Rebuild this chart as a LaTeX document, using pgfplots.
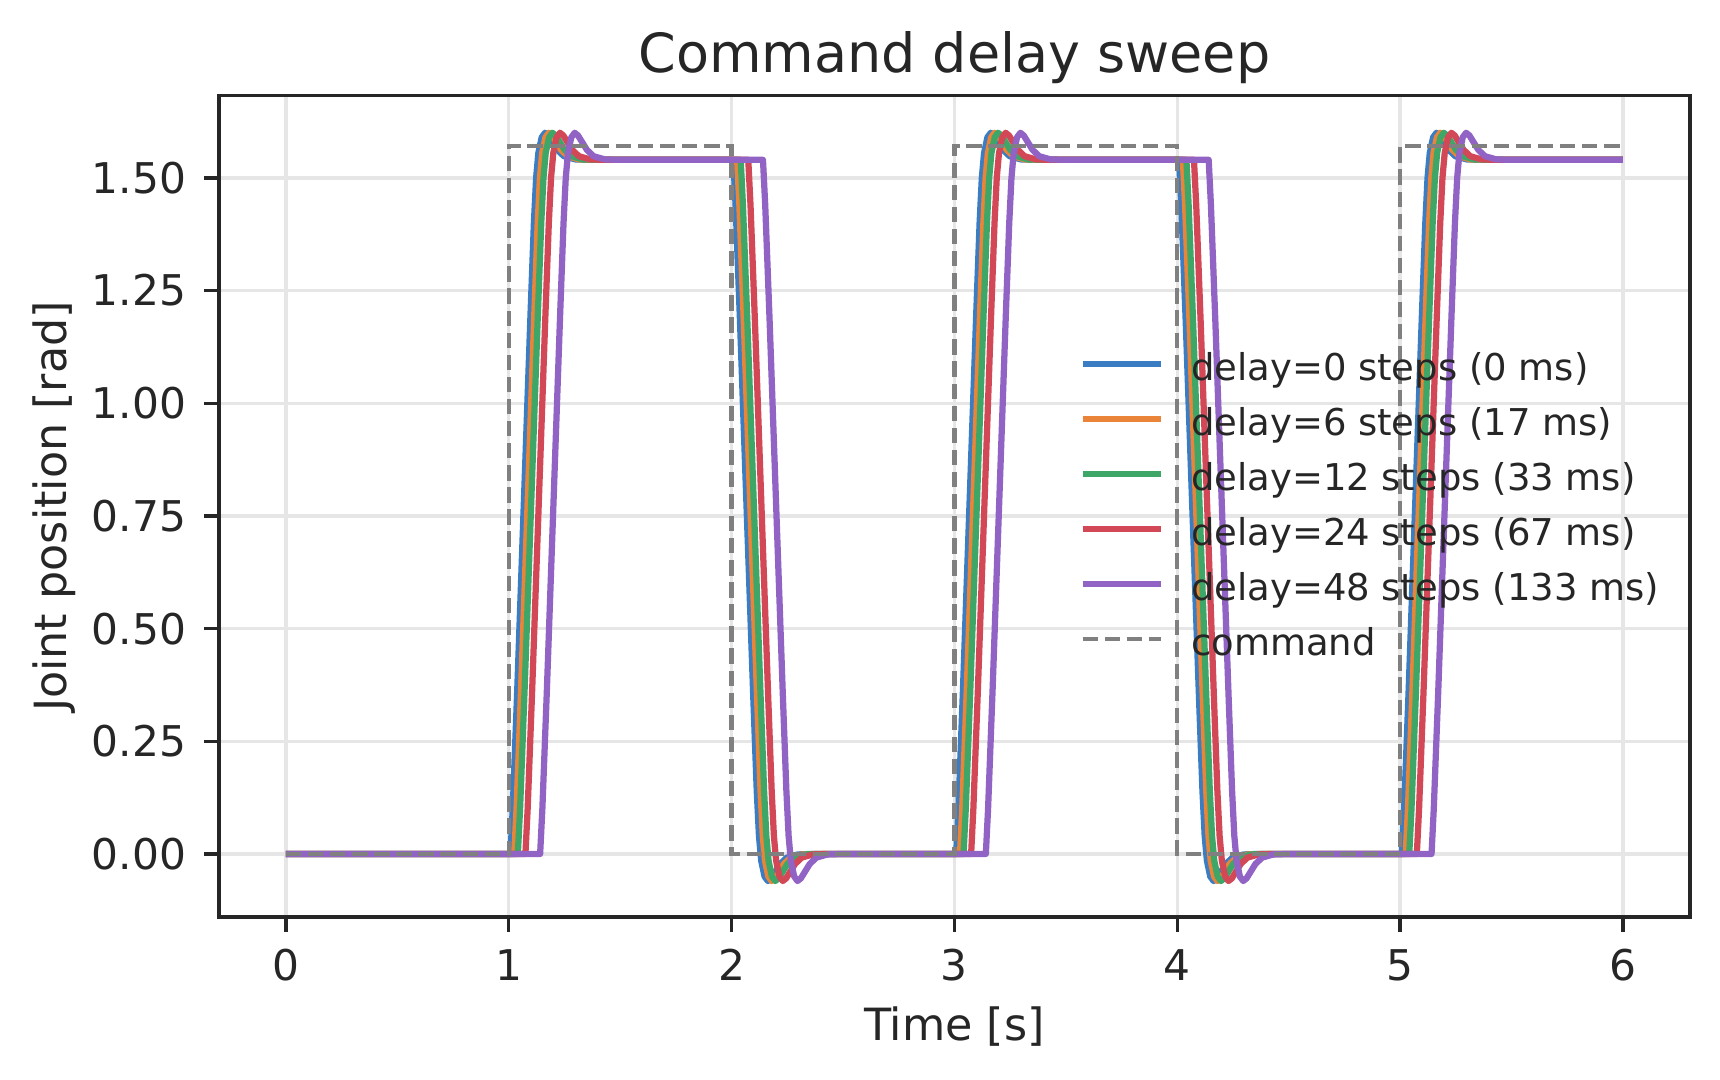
\documentclass[border=0pt]{standalone}
\usepackage{fontspec}
\setmainfont{DejaVu Sans}
\usepackage{pgfplots}
\pgfplotsset{compat=1.18}
\definecolor{cblue}{RGB}{59,125,195}
\definecolor{corange}{RGB}{234,132,56}
\definecolor{cgreen}{RGB}{62,167,103}
\definecolor{cred}{RGB}{211,72,87}
\definecolor{cpurple}{RGB}{145,99,197}
\definecolor{ccmd}{RGB}{128,128,128}
\definecolor{textc}{RGB}{38,38,38}
\definecolor{gridc}{RGB}{230,230,230}
\begin{document}
\begin{tikzpicture}
\begin{axis}[
  at={(52.56bp,39.1bp)}, anchor=south west,
  scale only axis, width=353.0bp, height=197.1bp,
  xmin=-0.3, xmax=6.3, ymin=-0.14, ymax=1.682,
  xtick={0,1,2,3,4,5,6},
  ytick={0,0.25,0.5,0.75,1,1.25,1.5},
  xtick pos=bottom, ytick pos=left,
  yticklabel style={/pgf/number format/fixed, /pgf/number format/fixed zerofill, /pgf/number format/precision=2},
  /pgf/number format/assume math mode=true,
  tick align=outside, major tick length=3.5bp,
  tick style={color=textc, line width=0.8bp},
  axis line style={color=textc, line width=0.8bp},
  every tick label/.append style={text=textc, font=\fontsize{10.2}{12}\selectfont},
  xticklabel style={anchor=base, inner sep=0pt, yshift=-11.8bp},
  yticklabel style={anchor=east, inner sep=0pt, xshift=-4.2bp},
  grid=major, major grid style={color=gridc, line width=0.8bp},
  title={Command delay sweep},
  title style={at={(axis description cs:0.5,1)}, anchor=base, inner sep=0pt, yshift=-0.48bp, text=textc, font=\fontsize{13}{15}\selectfont},
  xlabel={Time [s]},
  xlabel style={at={(axis description cs:0.5,0)}, anchor=base, inner sep=0pt, yshift=-29.5bp, text=textc, font=\fontsize{10.7}{12}\selectfont},
  ylabel={Joint position [rad]},
  ylabel style={at={(axis description cs:-0.1034,0.5)}, anchor=base, inner sep=0pt, text=textc, font=\fontsize{10.7}{12}\selectfont},
  legend cell align=left,
  legend style={at={(axis description cs:0.585,0.689)}, anchor=north west,
    draw=none, fill=none, inner sep=0pt, outer sep=0pt, row sep=4.2bp,
    text=textc, font=\fontsize{8.9}{10}\selectfont,
    nodes={inner sep=0pt, text height=7bp, text depth=2bp},
    /tikz/every odd column/.append style={column sep=6.5bp}},
  legend image code/.code={\draw[#1] (0bp,1.4bp) -- (18.8bp,1.4bp);},
]
\addplot[cblue, line width=1.5bp, line join=round] coordinates {
(0,0)
(1.008,0) (1.018,0.100) (1.038,0.360) (1.058,0.640) (1.078,0.920) (1.098,1.200) (1.113,1.400) (1.123,1.500) (1.133,1.555) (1.148,1.590) (1.163,1.600) (1.178,1.594) (1.198,1.578) (1.218,1.562) (1.248,1.548) (1.298,1.541) (1.358,1.540)
(2.008,1.540) (2.018,1.440) (2.038,1.180) (2.058,0.900) (2.078,0.620) (2.098,0.340) (2.113,0.140) (2.123,0.040) (2.133,-0.015) (2.148,-0.050) (2.163,-0.060) (2.178,-0.054) (2.198,-0.038) (2.218,-0.022) (2.248,-0.008) (2.298,-0.001) (2.358,0)
(3.008,0) (3.018,0.100) (3.038,0.360) (3.058,0.640) (3.078,0.920) (3.098,1.200) (3.113,1.400) (3.123,1.500) (3.133,1.555) (3.148,1.590) (3.163,1.600) (3.178,1.594) (3.198,1.578) (3.218,1.562) (3.248,1.548) (3.298,1.541) (3.358,1.540)
(4.008,1.540) (4.018,1.440) (4.038,1.180) (4.058,0.900) (4.078,0.620) (4.098,0.340) (4.113,0.140) (4.123,0.040) (4.133,-0.015) (4.148,-0.050) (4.163,-0.060) (4.178,-0.054) (4.198,-0.038) (4.218,-0.022) (4.248,-0.008) (4.298,-0.001) (4.358,0)
(5.008,0) (5.018,0.100) (5.038,0.360) (5.058,0.640) (5.078,0.920) (5.098,1.200) (5.113,1.400) (5.123,1.500) (5.133,1.555) (5.148,1.590) (5.163,1.600) (5.178,1.594) (5.198,1.578) (5.218,1.562) (5.248,1.548) (5.298,1.541) (5.358,1.540)
(6,1.540)
};
\addlegendentry{delay=0 steps (0 ms)}
\addplot[corange, line width=1.5bp, line join=round] coordinates {
(0,0)
(1.025,0) (1.035,0.100) (1.055,0.360) (1.075,0.640) (1.095,0.920) (1.115,1.200) (1.130,1.400) (1.140,1.500) (1.150,1.555) (1.165,1.590) (1.180,1.600) (1.195,1.594) (1.215,1.578) (1.235,1.562) (1.265,1.548) (1.315,1.541) (1.375,1.540)
(2.025,1.540) (2.035,1.440) (2.055,1.180) (2.075,0.900) (2.095,0.620) (2.115,0.340) (2.130,0.140) (2.140,0.040) (2.150,-0.015) (2.165,-0.050) (2.180,-0.060) (2.195,-0.054) (2.215,-0.038) (2.235,-0.022) (2.265,-0.008) (2.315,-0.001) (2.375,0)
(3.025,0) (3.035,0.100) (3.055,0.360) (3.075,0.640) (3.095,0.920) (3.115,1.200) (3.130,1.400) (3.140,1.500) (3.150,1.555) (3.165,1.590) (3.180,1.600) (3.195,1.594) (3.215,1.578) (3.235,1.562) (3.265,1.548) (3.315,1.541) (3.375,1.540)
(4.025,1.540) (4.035,1.440) (4.055,1.180) (4.075,0.900) (4.095,0.620) (4.115,0.340) (4.130,0.140) (4.140,0.040) (4.150,-0.015) (4.165,-0.050) (4.180,-0.060) (4.195,-0.054) (4.215,-0.038) (4.235,-0.022) (4.265,-0.008) (4.315,-0.001) (4.375,0)
(5.025,0) (5.035,0.100) (5.055,0.360) (5.075,0.640) (5.095,0.920) (5.115,1.200) (5.130,1.400) (5.140,1.500) (5.150,1.555) (5.165,1.590) (5.180,1.600) (5.195,1.594) (5.215,1.578) (5.235,1.562) (5.265,1.548) (5.315,1.541) (5.375,1.540)
(6,1.540)
};
\addlegendentry{delay=6 steps (17 ms)}
\addplot[cgreen, line width=1.5bp, line join=round] coordinates {
(0,0)
(1.041,0) (1.051,0.100) (1.071,0.360) (1.091,0.640) (1.111,0.920) (1.131,1.200) (1.146,1.400) (1.156,1.500) (1.166,1.555) (1.181,1.590) (1.196,1.600) (1.211,1.594) (1.231,1.578) (1.251,1.562) (1.281,1.548) (1.331,1.541) (1.391,1.540)
(2.041,1.540) (2.051,1.440) (2.071,1.180) (2.091,0.900) (2.111,0.620) (2.131,0.340) (2.146,0.140) (2.156,0.040) (2.166,-0.015) (2.181,-0.050) (2.196,-0.060) (2.211,-0.054) (2.231,-0.038) (2.251,-0.022) (2.281,-0.008) (2.331,-0.001) (2.391,0)
(3.041,0) (3.051,0.100) (3.071,0.360) (3.091,0.640) (3.111,0.920) (3.131,1.200) (3.146,1.400) (3.156,1.500) (3.166,1.555) (3.181,1.590) (3.196,1.600) (3.211,1.594) (3.231,1.578) (3.251,1.562) (3.281,1.548) (3.331,1.541) (3.391,1.540)
(4.041,1.540) (4.051,1.440) (4.071,1.180) (4.091,0.900) (4.111,0.620) (4.131,0.340) (4.146,0.140) (4.156,0.040) (4.166,-0.015) (4.181,-0.050) (4.196,-0.060) (4.211,-0.054) (4.231,-0.038) (4.251,-0.022) (4.281,-0.008) (4.331,-0.001) (4.391,0)
(5.041,0) (5.051,0.100) (5.071,0.360) (5.091,0.640) (5.111,0.920) (5.131,1.200) (5.146,1.400) (5.156,1.500) (5.166,1.555) (5.181,1.590) (5.196,1.600) (5.211,1.594) (5.231,1.578) (5.251,1.562) (5.281,1.548) (5.331,1.541) (5.391,1.540)
(6,1.540)
};
\addlegendentry{delay=12 steps (33 ms)}
\addplot[cred, line width=1.5bp, line join=round] coordinates {
(0,0)
(1.075,0) (1.085,0.100) (1.105,0.360) (1.125,0.640) (1.145,0.920) (1.165,1.200) (1.180,1.400) (1.190,1.500) (1.200,1.555) (1.215,1.590) (1.230,1.600) (1.245,1.594) (1.265,1.578) (1.285,1.562) (1.315,1.548) (1.365,1.541) (1.425,1.540)
(2.075,1.540) (2.085,1.440) (2.105,1.180) (2.125,0.900) (2.145,0.620) (2.165,0.340) (2.180,0.140) (2.190,0.040) (2.200,-0.015) (2.215,-0.050) (2.230,-0.060) (2.245,-0.054) (2.265,-0.038) (2.285,-0.022) (2.315,-0.008) (2.365,-0.001) (2.425,0)
(3.075,0) (3.085,0.100) (3.105,0.360) (3.125,0.640) (3.145,0.920) (3.165,1.200) (3.180,1.400) (3.190,1.500) (3.200,1.555) (3.215,1.590) (3.230,1.600) (3.245,1.594) (3.265,1.578) (3.285,1.562) (3.315,1.548) (3.365,1.541) (3.425,1.540)
(4.075,1.540) (4.085,1.440) (4.105,1.180) (4.125,0.900) (4.145,0.620) (4.165,0.340) (4.180,0.140) (4.190,0.040) (4.200,-0.015) (4.215,-0.050) (4.230,-0.060) (4.245,-0.054) (4.265,-0.038) (4.285,-0.022) (4.315,-0.008) (4.365,-0.001) (4.425,0)
(5.075,0) (5.085,0.100) (5.105,0.360) (5.125,0.640) (5.145,0.920) (5.165,1.200) (5.180,1.400) (5.190,1.500) (5.200,1.555) (5.215,1.590) (5.230,1.600) (5.245,1.594) (5.265,1.578) (5.285,1.562) (5.315,1.548) (5.365,1.541) (5.425,1.540)
(6,1.540)
};
\addlegendentry{delay=24 steps (67 ms)}
\addplot[cpurple, line width=1.5bp, line join=round] coordinates {
(0,0)
(1.141,0) (1.151,0.100) (1.171,0.360) (1.191,0.640) (1.211,0.920) (1.231,1.200) (1.246,1.400) (1.256,1.500) (1.266,1.555) (1.281,1.590) (1.296,1.600) (1.311,1.594) (1.331,1.578) (1.351,1.562) (1.381,1.548) (1.431,1.541) (1.491,1.540)
(2.141,1.540) (2.151,1.440) (2.171,1.180) (2.191,0.900) (2.211,0.620) (2.231,0.340) (2.246,0.140) (2.256,0.040) (2.266,-0.015) (2.281,-0.050) (2.296,-0.060) (2.311,-0.054) (2.331,-0.038) (2.351,-0.022) (2.381,-0.008) (2.431,-0.001) (2.491,0)
(3.141,0) (3.151,0.100) (3.171,0.360) (3.191,0.640) (3.211,0.920) (3.231,1.200) (3.246,1.400) (3.256,1.500) (3.266,1.555) (3.281,1.590) (3.296,1.600) (3.311,1.594) (3.331,1.578) (3.351,1.562) (3.381,1.548) (3.431,1.541) (3.491,1.540)
(4.141,1.540) (4.151,1.440) (4.171,1.180) (4.191,0.900) (4.211,0.620) (4.231,0.340) (4.246,0.140) (4.256,0.040) (4.266,-0.015) (4.281,-0.050) (4.296,-0.060) (4.311,-0.054) (4.331,-0.038) (4.351,-0.022) (4.381,-0.008) (4.431,-0.001) (4.491,0)
(5.141,0) (5.151,0.100) (5.171,0.360) (5.191,0.640) (5.211,0.920) (5.231,1.200) (5.246,1.400) (5.256,1.500) (5.266,1.555) (5.281,1.590) (5.296,1.600) (5.311,1.594) (5.331,1.578) (5.351,1.562) (5.381,1.548) (5.431,1.541) (5.491,1.540)
(6,1.540)
};
\addlegendentry{delay=48 steps (133 ms)}
\addplot[ccmd, line width=1bp, dash pattern=on 3.7bp off 1.6bp] coordinates {
(0,0) (1,0) (1,1.5708) (2,1.5708) (2,0) (3,0) (3,1.5708) (4,1.5708) (4,0) (5,0) (5,1.5708) (6,1.5708)
};
\addlegendentry{command}
\end{axis}
\pgfresetboundingbox
\useasboundingbox (0,0) rectangle (412.8bp,259.2bp);
\end{tikzpicture}
\end{document}
